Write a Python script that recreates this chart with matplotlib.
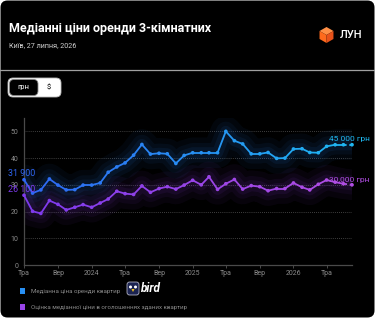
import matplotlib
matplotlib.use("Agg")
import matplotlib.pyplot as plt
import matplotlib.dates as mdates
from matplotlib.collections import LineCollection
from matplotlib.colors import LinearSegmentedColormap
from matplotlib.patches import FancyBboxPatch, Polygon, Circle
import numpy as np
import pandas as pd

W, H = 375, 318

# monthly points, May 2023 .. Aug 2026 (thousand UAH)
months = pd.date_range("2023-05-01", periods=40, freq="MS")
rent_bird = [31.9, 26.9, 28.1, 32.2, 29.9, 28.1, 28.2, 29.9, 29.9, 30.7,
             34.7, 36.7, 38.2, 41.1, 45.1, 41.5, 41.8, 41.6, 38.0, 41.0,
             42.0, 42.0, 42.0, 42.0, 50.0, 46.5, 45.3, 41.6, 41.6, 42.1,
             39.9, 40.0, 43.4, 43.5, 42.1, 42.0, 44.4, 45.0, 45.0, 45.0]
rent_ads = [26.1, 20.1, 19.3, 24.1, 22.7, 20.6, 21.6, 22.6, 21.6, 23.2,
            24.7, 27.6, 26.7, 26.4, 29.6, 27.2, 28.6, 29.3, 28.4, 29.9,
            31.7, 30.0, 33.0, 28.3, 30.4, 32.0, 28.4, 29.7, 29.3, 27.8,
            28.6, 28.6, 30.7, 29.1, 28.1, 30.2, 31.8, 31.0, 30.4, 30.0]
first_labels = ["31 900", "26 100"]
last_labels = ["45 000 грн", "30,000 грн"]
legend_labels = ["Медіанна ціна оренди квартир",
                 "Оцінка медіанної ціни в оголошеннях зданих квартир"]
month_names = {5: "Тра", 9: "Вер"}

blue_cmap = LinearSegmentedColormap.from_list("b", ["#2f66f4", "#1fb8f2"])
purple_cmap = LinearSegmentedColormap.from_list("p", ["#7d3aec", "#b24ee4"])

plt.rcParams["font.family"] = ["Roboto", "DejaVu Sans"]

fig = plt.figure(figsize=(W / 100, H / 100), dpi=100)
fig.patch.set_facecolor("white")


def fx(x):
    return x / W


def fy(y):
    return 1 - y / H


# card background
fig.patches.append(FancyBboxPatch((0.5, 0.5), W - 1, H - 1,
                                  boxstyle="round,pad=0,rounding_size=7",
                                  transform=None, facecolor="black",
                                  edgecolor="none", zorder=-5))

# header
fig.text(fx(9), fy(28.5), "Медіанні ціни оренди 3-кімнатних", color="white",
         fontsize=9.0, fontweight="bold", va="center")
fig.text(fx(9), fy(45.5), "Київ, 27 липня, 2026", color="#d0d0d0",
         fontsize=5.2, va="center")

# LUN logo: isometric cube
cx, cy, r = 326.5, H - 35, 8
top = [(cx, cy), (cx - r * 0.87, cy + r * 0.5), (cx, cy + r), (cx + r * 0.87, cy + r * 0.5)]
left = [(cx, cy), (cx - r * 0.87, cy + r * 0.5), (cx - r * 0.87, cy - r * 0.5), (cx, cy - r)]
right = [(cx, cy), (cx + r * 0.87, cy + r * 0.5), (cx + r * 0.87, cy - r * 0.5), (cx, cy - r)]
for pts, c in [(top, "#ff8f45"), (left, "#ff6a1c"), (right, "#e8521a")]:
    fig.patches.append(Polygon(pts, closed=True, transform=None,
                               facecolor=c, edgecolor="none", zorder=3))
fig.text(fx(340), fy(35), "ЛУН", color="white", fontsize=8, va="center",
         fontweight="medium")

# separator
fig.add_artist(plt.Line2D([0, 1], [fy(69.7), fy(69.7)], transform=fig.transFigure,
                          color="#a0a0a0", lw=0.9))

# currency toggle
fig.patches.append(FancyBboxPatch((8, H - 97), 53, 19,
                                  boxstyle="round,pad=0,rounding_size=5",
                                  transform=None, facecolor="white",
                                  edgecolor="#bbbbbb", lw=0.6, zorder=2))
fig.patches.append(FancyBboxPatch((9.5, H - 95.5), 28.5, 16,
                                  boxstyle="round,pad=0,rounding_size=4.5",
                                  transform=None, facecolor="black",
                                  edgecolor="#888888", lw=0.6, zorder=3))
fig.text(fx(23.7), fy(87.5), "грн", color="white", fontsize=5.5,
         ha="center", va="center")
fig.text(fx(49), fy(87.5), "$", color="black", fontsize=5.5,
         ha="center", va="center")

# chart
ax = fig.add_axes([fx(24), fy(265), fx(352) - fx(24), fy(118) - fy(265)])
ax.set_facecolor("black")
x = mdates.date2num(months)
ax.set_xlim(x[0], x[-1])
ax.set_ylim(0, 55)

for series, cmap in [(rent_bird, blue_cmap), (rent_ads, purple_cmap)]:
    y = np.array(series)
    t = (x - x[0]) / (x[-1] - x[0])
    # glow
    for lw, a in [(22, 0.05), (14, 0.06), (8, 0.08)]:
        ax.plot(x, y, color=cmap(0.4), lw=lw, alpha=a, solid_capstyle="round",
                zorder=1)
    pts = np.column_stack([x, y]).reshape(-1, 1, 2)
    segs = np.concatenate([pts[:-1], pts[1:]], axis=1)
    styles = ["solid"] * (len(segs) - 1) + [(0, (2, 1.5))]
    lc = LineCollection(segs, colors=cmap(t[:-1]), linewidths=1.3,
                        linestyles=styles, zorder=3)
    ax.add_collection(lc)
    ax.scatter(x, y, s=7, c=cmap(t), zorder=4, linewidths=0, clip_on=False)

ax.text(-0.049, 34.1 / 55, first_labels[0], transform=ax.transAxes,
        color=blue_cmap(0.0), fontsize=6.4, va="center", zorder=6)
ax.text(-0.049, 28.1 / 55, first_labels[1], transform=ax.transAxes,
        color=purple_cmap(0.0), fontsize=6.4, va="center", zorder=6)
ax.text(0.93, 47.1 / 55, last_labels[0], transform=ax.transAxes,
        color=blue_cmap(1.0), fontsize=6, va="center", zorder=6)
ax.text(0.93, 31.9 / 55, last_labels[1], transform=ax.transAxes,
        color=purple_cmap(1.0), fontsize=6, va="center", zorder=6)

for s in ["top", "right"]:
    ax.spines[s].set_visible(False)
for s in ["left", "bottom"]:
    ax.spines[s].set_color("#4a4a4a")
    ax.spines[s].set_linewidth(0.9)

ax.set_yticks([0, 10, 20, 30, 40, 50])
ax.yaxis.grid(True, color="#555555", linestyle=(0, (1, 1.5)), lw=0.6)
ax.set_axisbelow(True)
ax.tick_params(axis="y", length=0, labelsize=5, colors="#8a8a8a", pad=4)

ticks = [d for d in months if d.month in (1, 5, 9)]
ax.set_xticks(mdates.date2num(ticks))
ax.set_xticklabels([str(d.year) if d.month == 1 else month_names[d.month] for d in ticks])
ax.tick_params(axis="x", length=2, width=0.6, color="#555555", labelsize=5,
               colors="#8a8a8a", pad=1.5)
for lab in ax.get_xticklabels():
    lab.set_color("#8a8a8a")

# legend
for yy, cmap, label in [(291, blue_cmap, legend_labels[0]), (307, purple_cmap, legend_labels[1])]:
    fig.patches.append(FancyBboxPatch((20, H - yy - 2.7), 5.4, 5.4,
                                      boxstyle="square,pad=0", transform=None,
                                      facecolor=cmap(0.5), edgecolor="none"))
    fig.text(fx(31), fy(yy), label, color="#8c8c8c", fontsize=4.4, va="center")

# bird logo
fig.patches.append(FancyBboxPatch((127, H - 295), 12, 13,
                                  boxstyle="round,pad=0,rounding_size=2.5",
                                  transform=None, facecolor="#1b2350",
                                  edgecolor="#d0d0e0", lw=0.5, zorder=3))
for ex in (130.5, 135.5):
    fig.patches.append(Circle((ex, H - 287), 1.5, transform=None,
                              facecolor="white", edgecolor="none", zorder=4))
fig.patches.append(Polygon([(131.5, H - 289), (134.5, H - 289), (133, H - 292)],
                           transform=None, facecolor="#f5c518",
                           edgecolor="none", zorder=4))
fig.text(fx(141), fy(288.5), "bird", color="white", fontsize=8.5,
         fontweight="bold", fontstyle="italic", va="center")

fig.savefig("out.png", dpi=100, facecolor=fig.get_facecolor())
